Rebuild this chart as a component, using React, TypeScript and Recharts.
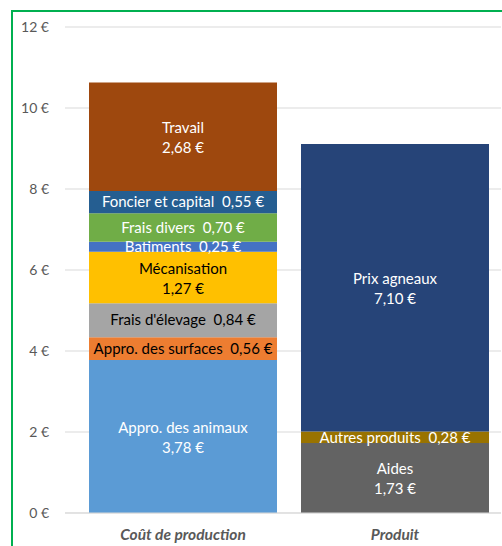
import { BarChart, Bar, XAxis, YAxis, CartesianGrid, LabelList } from "recharts"

const categories = ["Coût de production", "Produit"]

// Coût de production, bottom to top
const coutSeries = [
  "Appro. des animaux",
  "Appro. des surfaces",
  "Frais d'élevage",
  "Mécanisation",
  "Batiments",
  "Frais divers",
  "Foncier et capital",
  "Travail",
]
const coutValues = [3.78, 0.56, 0.84, 1.27, 0.25, 0.7, 0.55, 2.68]
const coutColors = ["#5b9bd5", "#ed7d31", "#a5a5a5", "#ffc000", "#4472c4", "#70ad47", "#255e91", "#9e480e"]
const coutTextColors = ["#fff", "#000", "#000", "#000", "#fff", "#fff", "#fff", "#fff"]

// Produit, bottom to top
const produitSeries = ["Aides", "Autres produits", "Prix agneaux"]
const produitValues = [1.73, 0.28, 7.1]
const produitColors = ["#636363", "#997300", "#264478"]
const produitTextColors = ["#fff", "#fff", "#fff"]

const twoLineLabels = ["Travail", "Mécanisation", "Appro. des animaux", "Prix agneaux", "Aides"]

const yTicks = [0, 2, 4, 6, 8, 10, 12]

const FONT = "Lato, 'Open Sans', sans-serif"

const fmt = (v: number) => v.toFixed(2).replace(".", ",") + " €"

const data = categories.map((cat, i) => {
  const row: Record<string, string | number> = { cat }
  if (i === 0) coutSeries.forEach((s, k) => (row[s] = coutValues[k]))
  else produitSeries.forEach((s, k) => (row[s] = produitValues[k]))
  return row
})

const series = [
  ...coutSeries.map((name, k) => ({ name, color: coutColors[k], text: coutTextColors[k] })),
  ...produitSeries.map((name, k) => ({ name, color: produitColors[k], text: produitTextColors[k] })),
]

function makeLabel(name: string, textColor: string) {
  return (props: any) => {
    const { x, y, width, height, value } = props
    if (value === undefined || value === null || !height) return null
    const cx = Number(x) + Number(width) / 2
    const cy = Number(y) + Number(height) / 2
    const common = {
      x: cx,
      textAnchor: "middle" as const,
      fill: textColor,
      fontSize: 15,
      fontFamily: FONT,
      style: { whiteSpace: "pre" as const },
    }
    if (twoLineLabels.includes(name)) {
      return (
        <g>
          <text {...common} y={cy - 9} dy="0.35em">
            {name}
          </text>
          <text {...common} y={cy + 11} dy="0.35em">
            {fmt(Number(value))}
          </text>
        </g>
      )
    }
    return (
      <text {...common} y={cy} dy="0.35em">
        {name + "  " + fmt(Number(value))}
      </text>
    )
  }
}

const XTick = (props: any) => {
  const { x, y, payload } = props
  return (
    <text
      x={x}
      y={Number(y) + 19}
      textAnchor="middle"
      fill="#595959"
      fontSize={15.5}
      fontWeight="bold"
      fontStyle="italic"
      fontFamily={FONT}
    >
      {payload.value}
    </text>
  )
}

export default function App() {
  return (
    <div
      style={{
        position: "fixed",
        left: 0,
        top: 0,
        width: 502,
        height: 546,
        overflow: "hidden",
        background: "#fff",
      }}
    >
      <div
        style={{
          position: "absolute",
          left: 11,
          top: 10,
          width: 600,
          height: 600,
          border: "2px solid #00b050",
        }}
      />
      <div style={{ position: "absolute", left: 0, top: 0 }}>
        <BarChart
          width={502}
          height={546}
          data={data}
          margin={{ top: 27, right: 1, left: 0, bottom: 0 }}
        >
          <CartesianGrid vertical={false} stroke="#d9d9d9" strokeWidth={1} />
          <XAxis
            dataKey="cat"
            height={33}
            padding={{ left: 12, right: 0 }}
            tickLine={false}
            axisLine={{ stroke: "#d9d9d9" }}
            tick={<XTick />}
            interval={0}
          />
          <YAxis
            domain={[0, 12]}
            ticks={yTicks}
            width={65}
            tickLine={false}
            axisLine={false}
            tickMargin={10}
            tickFormatter={(v: number) => `${v} €`}
            tick={{ fill: "#595959", fontSize: 14, fontFamily: FONT }}
          />
          {series.map((s) => (
            <Bar
              key={s.name}
              dataKey={s.name}
              stackId="a"
              fill={s.color}
              barSize={188}
              isAnimationActive={false}
            >
              <LabelList dataKey={s.name} content={makeLabel(s.name, s.text)} />
            </Bar>
          ))}
        </BarChart>
      </div>
    </div>
  )
}
